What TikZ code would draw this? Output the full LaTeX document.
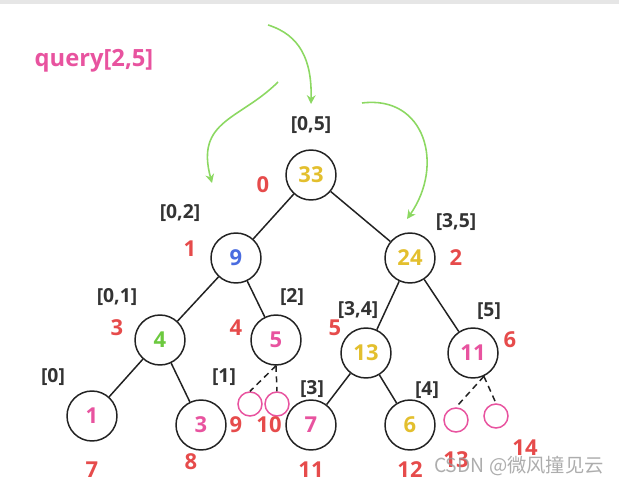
\documentclass[tikz,border=0pt]{standalone}
\usepackage{fontspec}
\setmainfont{Open Sans}
\newfontfamily\cjk{Noto Sans CJK SC}
\usetikzlibrary{arrows.meta, positioning}
\definecolor{gold}{HTML}{E3BF2E}
\definecolor{bluev}{HTML}{4A6CE0}
\definecolor{greenv}{HTML}{6CC93F}
\definecolor{pinkv}{HTML}{E8539F}
\definecolor{idxred}{HTML}{E64B4B}
\definecolor{labelgray}{HTML}{333333}
\definecolor{edgegray}{HTML}{222222}
\definecolor{hintgreen}{HTML}{8CD862}
\definecolor{topgray}{HTML}{E6E6E6}

\begin{document}
\begin{tikzpicture}[x=0.02cm, y=-0.02cm,
    seg/.style={circle, draw=edgegray, line width=0.85pt, minimum size=1cm, inner sep=0pt, font=\bfseries\fontsize{12.5}{13}\selectfont},
    empty/.style={circle, draw=pinkv, line width=0.85pt, minimum size=0.48cm, inner sep=0pt},
    interval/.style={text=labelgray, font=\bfseries\fontsize{11}{12}\selectfont},
    idx/.style={text=idxred, font=\bfseries\fontsize{12.5}{13}\selectfont},
    tree/.style={draw=edgegray, line width=0.85pt},
    miss/.style={tree, dash pattern=on 3.5pt off 2.5pt},
    hint/.style={-{Stealth[length=5pt, width=5pt]}, draw=hintgreen, line width=0.9pt}
]
\useasboundingbox (0,0) rectangle (619,486);
\fill[topgray] (0,0) rectangle (619,4);

% Query
\node[text=pinkv, font=\bfseries\fontsize{13.5}{14}\selectfont] (query) at (94,61) {query[2,5]};

% Segment tree nodes
\node[seg, text=gold] (n0) at (311,175) {33};
\node[seg, text=bluev] (n1) at (236,258) {9};
\node[seg, text=gold] (n2) at (410,258) {24};
\node[seg, text=greenv] (n3) at (160,340) {4};
\node[seg, text=pinkv] (n4) at (276,340) {5};
\node[seg, text=gold] (n5) at (366,353) {13};
\node[seg, text=pinkv] (n6) at (473,353) {11};
\node[seg, text=pinkv] (n7) at (92,416) {1};
\node[seg, text=pinkv] (n8) at (201,425) {3};
\node[seg, text=pinkv] (n11) at (311,425) {7};
\node[seg, text=gold] (n12) at (410,425) {6};

% Empty slots
\node[empty] (n9) at (250,404) {};
\node[empty] (n10) at (277,404) {};
\node[empty] (n13) at (456,420) {};
\node[empty] (n14) at (496,416) {};

% Intervals
\node[interval] (r05) at (311,125) {[0,5]};
\node[interval] (r02) at (180,213) {[0,2]};
\node[interval] (r35) at (456,222) {[3,5]};
\node[interval] (r01) at (117,297) {[0,1]};
\node[interval] (r2) at (292,297) {[2]};
\node[interval] (r34) at (358,310) {[3,4]};
\node[interval] (r5) at (489,311) {[5]};
\node[interval] (r0) at (53,377) {[0]};
\node[interval] (r1) at (224,377) {[1]};
\node[interval] (r3) at (312,389) {[3]};
\node[interval] (r4) at (427,390) {[4]};

% Array indices
\node[idx] (i0) at (263,185) {0};
\node[idx] (i1) at (190,249) {1};
\node[idx] (i2) at (456,258) {2};
\node[idx] (i3) at (117,328) {3};
\node[idx] (i4) at (236,328) {4};
\node[idx] (i5) at (335,328) {5};
\node[idx] (i6) at (510,340) {6};
\node[idx] (i7) at (92,470) {7};
\node[idx] (i8) at (191,462) {8};
\node[idx] (i9) at (236,425) {9};
\node[idx] (i10) at (269,425) {10};
\node[idx] (i11) at (311,470) {11};
\node[idx] (i12) at (410,470) {12};
\node[idx] (i13) at (456,460) {13};
\node[idx] (i14) at (525,448) {14};

% Tree edges
\draw[tree] (n0) -- (n1);
\draw[tree] (n0) -- (n2);
\draw[tree] (n1) -- (n3);
\draw[tree] (n1) -- (n4);
\draw[tree] (n2) -- (n5);
\draw[tree] (n2) -- (n6);
\draw[tree] (n3) -- (n7);
\draw[tree] (n3) -- (n8);
\draw[tree] (n5) -- (n11);
\draw[tree] (n5) -- (n12);
\draw[miss] (n4.south) -- (n9.north);
\draw[miss] (n4.south) -- (n10.north);
\draw[miss] (n6.-65) -- (n13.north);
\draw[miss] (n6.-65) -- (n14.north);

% Query path
\coordinate (h0) at (268,25);
\coordinate (h0end) at (311,104);
\coordinate (h1) at (278,82);
\coordinate (h1end) at (212,183);
\coordinate (h2) at (362,103);
\coordinate (h2end) at (407,219);
\draw[hint] (h0) .. controls (300,35) and (312,60) .. (h0end);
\draw[hint] (h1) .. controls (240,120) and (195,120) .. (h1end);
\draw[hint] (h2) .. controls (425,95) and (445,165) .. (h2end);

% Watermark
\node[text=gray!80, opacity=0.8, font=\cjk\fontsize{11}{12}\selectfont] (mark) at (519,466) {CSDN @微风撞见云};
\end{tikzpicture}
\end{document}
